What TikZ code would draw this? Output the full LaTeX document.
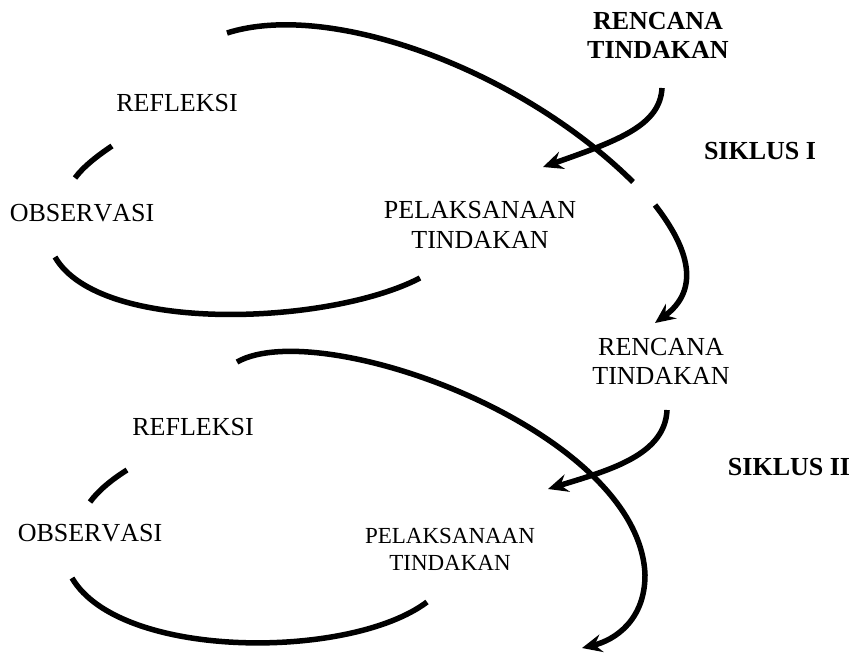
\documentclass[tikz,border=0pt]{standalone}
\usepackage{fontspec}
\setmainfont{Liberation Serif}[Kerning=Off]
\usetikzlibrary{arrows.meta}
\tikzstyle{lbl}=[align=center,inner sep=0pt,font=\fontsize{26}{29}\selectfont]
\tikzstyle{lblbold}=[lbl,font=\fontsize{26}{29}\selectfont\bfseries]
\tikzstyle{lblsmall}=[lbl,font=\fontsize{23}{27}\selectfont]
\tikzstyle{cycleline}=[draw,line width=5.5pt]
\tikzstyle{cyclearrow}=[cycleline,-{Stealth[length=20pt,width=18pt,inset=7pt]}]

\begin{document}
\begin{tikzpicture}[x=1pt,y=-1pt]
    \useasboundingbox (0,0) rectangle (861,654);
    % First we place the labels
    \foreach \pos/\name/\txt in {{(658,35)/ren1/{RENCANA\\TINDAKAN}}, {(760,151)/sik1/{SIKLUS I}}, {(789,467)/sik2/{SIKLUS II}}}
        \node[lblbold] (\name) at \pos {\txt};
    \foreach \pos/\name/\txt in {{(177,103)/ref1/REFLEKSI}, {(82,213)/obs1/OBSERVASI}, {(661,361)/ren2/{RENCANA\\TINDAKAN}}, {(193,427)/ref2/REFLEKSI}, {(90,533)/obs2/OBSERVASI}}
        \node[lbl] (\name) at \pos {\txt};
    \node[lbl,font=\fontsize{26}{30}\selectfont] (pel1) at (480,225) {PELAKSANAAN\\TINDAKAN};
    \node[lblsmall] (pel2) at (450,549) {PELAKSANAAN\\TINDAKAN};
    % End points of the cycle lines
    \foreach \pos/\name in {{(227,33)/a1}, {(633,182)/b1}, {(655,205)/c1}, {(655,323)/d1}, {(662,88)/e1}, {(543,167)/f1}, {(112,146)/g1}, {(75,178)/h1}, {(55,257)/i1}, {(420,278)/j1}}
        \node[coordinate] (\name) at \pos {};
    \foreach \pos/\name in {{(237,362)/a2}, {(645,575)/b2}, {(582,648)/d2}, {(667,410)/e2}, {(548,489)/f2}, {(127,470)/g2}, {(90,502)/h2}, {(72,578)/i2}, {(427,602)/j2}}
        \node[coordinate] (\name) at \pos {};
    % Cycle I
    \path[cycleline] (a1) .. controls (330,0) and (520,70) .. (b1);
    \path[cyclearrow] (c1) .. controls (690,250) and (700,290) .. (d1);
    \path[cyclearrow] (e1) .. controls (660,125) and (620,140) .. (f1);
    \path[cycleline] (g1) .. controls (97,156) and (83,167) .. (h1);
    \path[cycleline] (i1) .. controls (100,335) and (330,325) .. (j1);
    % Cycle II
    \path[cyclearrow] (a2) .. controls (320,315) and (640,430) .. (b2) .. controls (645,620) and (615,640) .. (d2);
    \path[cyclearrow] (e2) .. controls (665,455) and (610,470) .. (f2);
    \path[cycleline] (g2) .. controls (111,480) and (98,491) .. (h2);
    \path[cycleline] (i2) .. controls (120,660) and (350,660) .. (j2);
\end{tikzpicture}
\end{document}
